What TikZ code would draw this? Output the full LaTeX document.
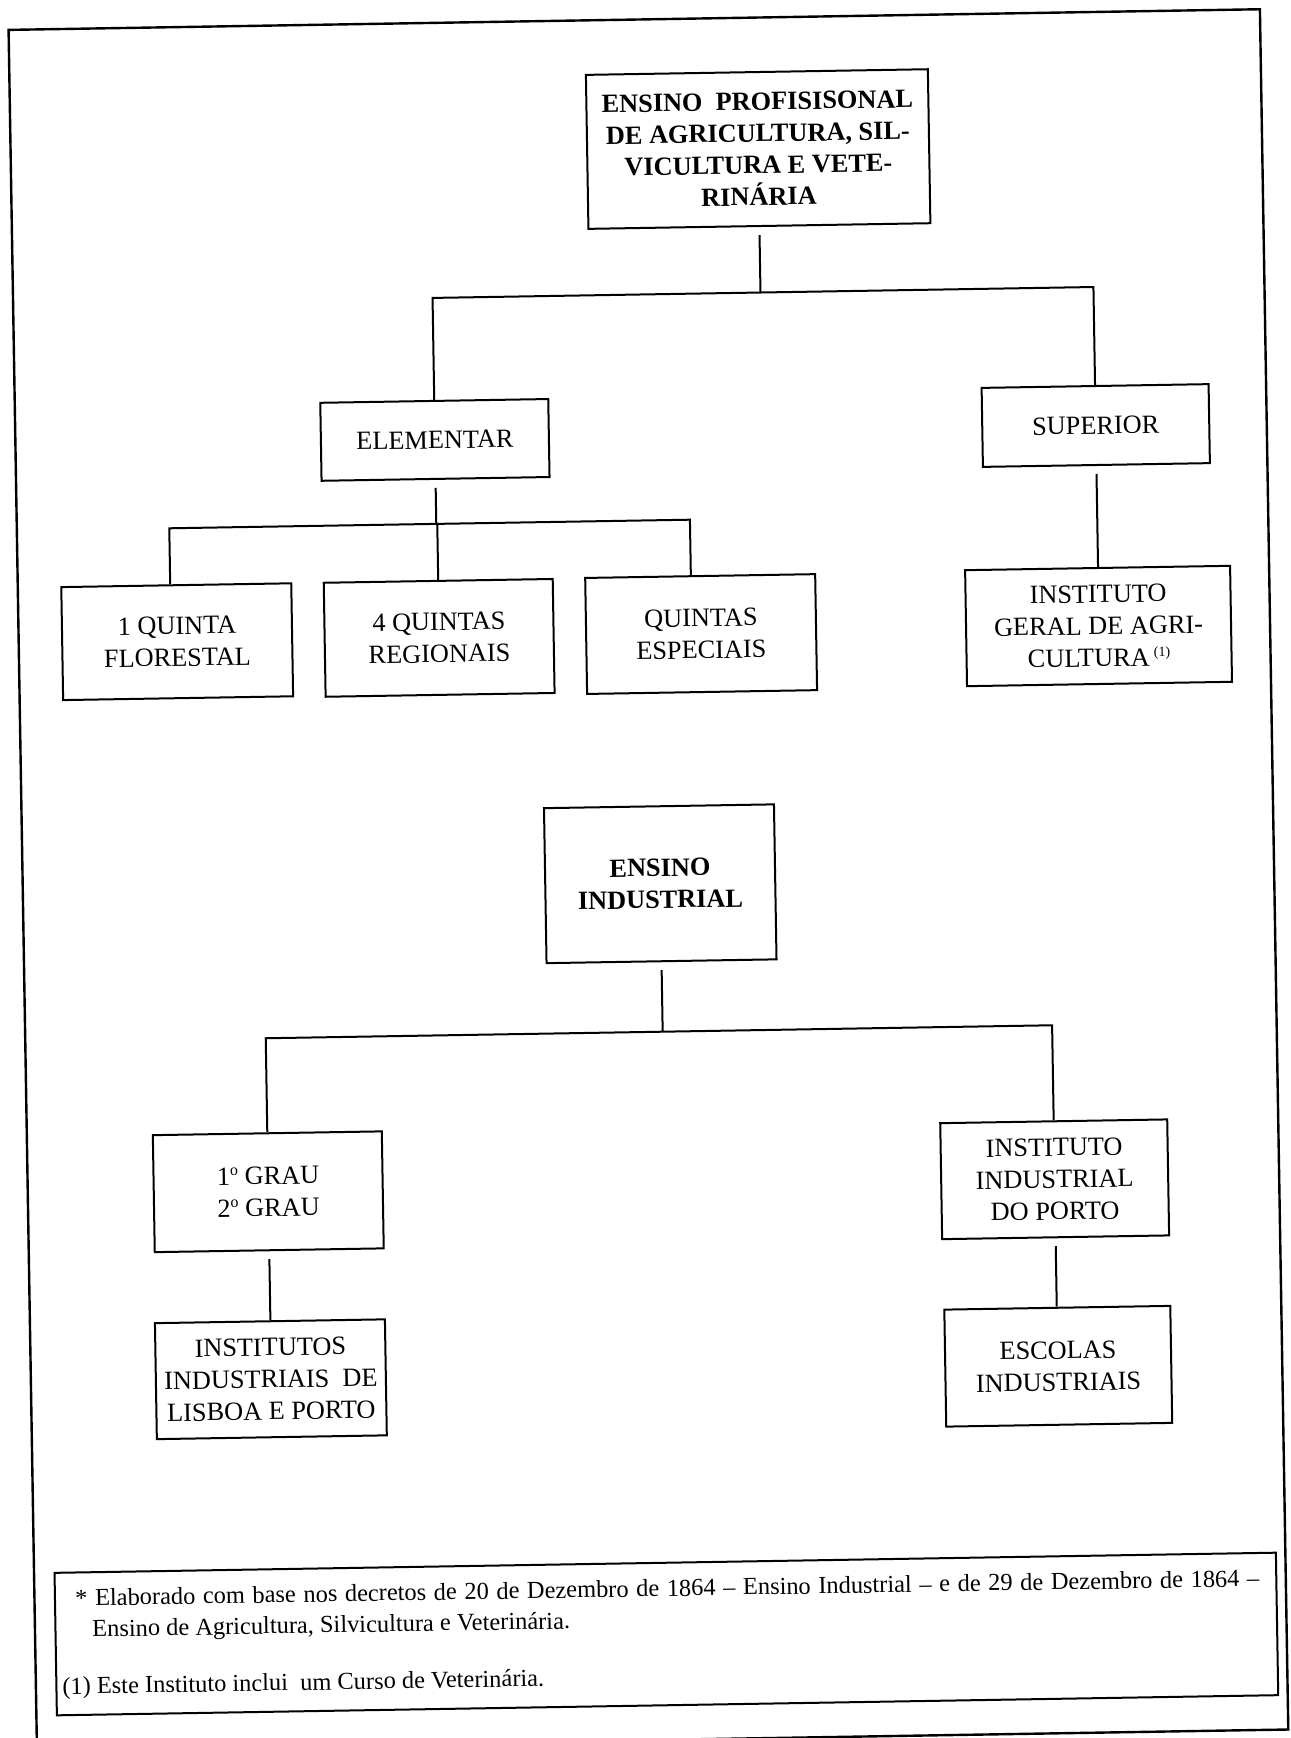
\documentclass[tikz,border=0pt]{standalone}
\usepackage{fontspec}
\setmainfont{Liberation Serif}
\usetikzlibrary{calc}
\tikzset{
  boxnode/.style={draw, line width=1pt, inner sep=0pt, align=center, font=\fontsize{13.15}{16}\selectfont},
  boldbox/.style={boxnode, font=\fontsize{13.15}{15.9}\selectfont\bfseries},
  conn/.style={line width=1pt},
  dropconn/.style={conn, shorten <=4pt},
  fntext/.style={anchor=base west, inner sep=0pt, font=\fontsize{12.2}{14}\selectfont},
  frame/.style={line width=1.2pt}
}
\newcommand{\ordo}{\raisebox{0.75ex}{\fontsize{8}{8}\selectfont o}}
\newcommand{\noteone}{\,\raisebox{0.75ex}{\fontsize{7}{7}\selectfont (1)}}
\begin{document}
\begin{tikzpicture}[x=0.5pt, y=-0.5pt]
\useasboundingbox (0,0) rectangle (1290,1738);
\clip (0,0) rectangle (1290,1738);
\begin{scope}[rotate around={0.945:(645,869)}, transform shape]
% outer frame
\draw[frame] (22.5,19.5) rectangle (1274,1740);

% agricultural tree
\node[boldbox, minimum width=171pt, minimum height=77pt] (T) at (770,151)
  {ENSINO\ \ PROFISISONAL\\DE AGRICULTURA, SIL-\\VICULTURA E VETE-\\RINÁRIA};
\node[boxnode, minimum width=114pt, minimum height=39pt] (E) at (442,436.5) {ELEMENTAR};
\node[boxnode, minimum width=113.5pt, minimum height=39.5pt] (S) at (1103,433) {SUPERIOR};
\node[boxnode, minimum width=115pt, minimum height=56.5pt] (Q1) at (181,634) {1 QUINTA\\FLORESTAL};
\node[boxnode, minimum width=114.5pt, minimum height=57pt] (Q4) at (443,634.5) {4 QUINTAS\\REGIONAIS};
\node[boxnode, minimum width=115pt, minimum height=58pt] (QE) at (705,635) {QUINTAS\\ESPECIAIS};
\node[boxnode, minimum width=132.5pt, minimum height=58pt] (IG) at (1102.5,633.5)
  {INSTITUTO\\GERAL DE AGRI-\\CULTURA\noteone};

\coordinate (bar1) at (770,294.5);
\coordinate (bar2) at (442,520.5);
\draw[dropconn] (T.south) -- (bar1);
\draw[conn] (E.north) -- ($(E.north)!(bar1)!(E.south)$) -- ($(S.north)!(bar1)!(S.south)$) -- (S.north);
\draw[dropconn] (E.south) -- (bar2);
\coordinate (q1t) at ($(Q1.north west)!0.474!(Q1.north east)$);
\coordinate (q1b) at ($(Q1.south west)!0.474!(Q1.south east)$);
\coordinate (qet) at ($(QE.north west)!0.46!(QE.north east)$);
\coordinate (qeb) at ($(QE.south west)!0.46!(QE.south east)$);
\draw[conn] (q1t) -- ($(q1t)!(bar2)!(q1b)$) -- ($(qet)!(bar2)!(qeb)$) -- (qet);
\draw[conn] (Q4.north) -- ($(Q4.north)!(bar2)!(Q4.south)$);
\draw[dropconn] (S.south) -- ($(IG.north west)!(S.south)!(IG.north east)$);

% industrial tree
\node[boldbox, minimum width=115pt, minimum height=77.5pt] (EI) at (660,884) {ENSINO\\INDUSTRIAL};
\node[boxnode, minimum width=114.5pt, minimum height=58.5pt] (G) at (263,1185.5) {1\ordo{} GRAU\\2\ordo{} GRAU};
\node[boxnode, minimum width=115pt, minimum height=58pt] (IL) at (262.5,1373)
  {INSTITUTOS\\INDUSTRIAIS\ \ DE\\LISBOA E PORTO};
\node[boxnode, minimum width=113.5pt, minimum height=58pt] (IIP) at (1049.5,1186)
  {INSTITUTO\\INDUSTRIAL\\DO PORTO};
\node[boxnode, minimum width=113pt, minimum height=58.5pt] (ESC) at (1050,1373) {ESCOLAS\\INDUSTRIAIS};

\coordinate (bar3) at (660,1032);
\draw[dropconn] (EI.south) -- (bar3);
\draw[conn] (G.north) -- ($(G.north)!(bar3)!(G.south)$) -- ($(IIP.north)!(bar3)!(IIP.south)$) -- (IIP.north);
\draw[dropconn] (G.south) -- ($(IL.north west)!(G.south)!(IL.north east)$);
\draw[dropconn] (IIP.south) -- ($(ESC.north west)!(IIP.south)!(ESC.north east)$);

% footnote
\node[draw, line width=1pt, inner sep=0pt, minimum width=610.75pt, minimum height=71.25pt] (fn) at (653.75,1634.25) {};
\node[fntext] (fn1) at (63,1596.5)
  {\makebox[592pt][s]{* Elaborado com base nos decretos de 20 de Dezembro de 1864 – Ensino Industrial – e de 29 de Dezembro de 1864 –}};
\node[fntext] (fn2) at (79.5,1627.5) {Ensino de Agricultura, Silvicultura e Veterinária.};
\node[fntext] (fn3) at (48.6,1684.5) {(1) Este Instituto inclui\ \ um Curso de Veterinária.};
\end{scope}
\end{tikzpicture}
\end{document}
